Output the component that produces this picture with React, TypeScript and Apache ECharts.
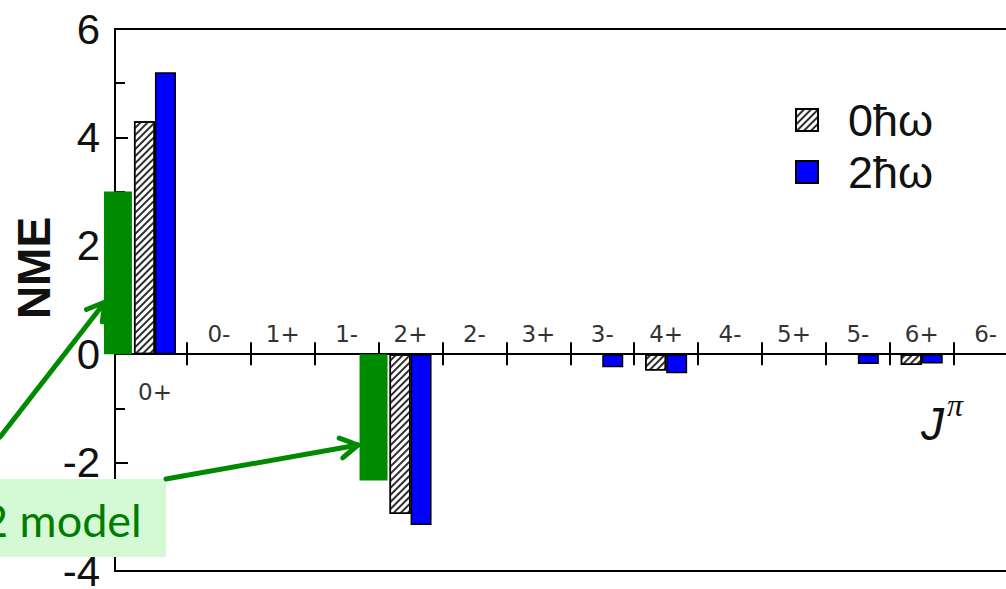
import React, { useEffect, useRef } from "react";
import * as echarts from "echarts";

const categories = ["0+", "0-", "1+", "1-", "2+", "2-", "3+", "3-", "4+", "4-", "5+", "5-", "6+", "6-"];
const seriesNames = ["0ħω", "2ħω"];
const nme0hw = [4.3, 0, 0, 0, -2.95, 0, 0, 0, -0.3, 0, 0, 0, -0.2, 0];
const nme2hw = [5.2, 0, 0, 0, -3.15, 0, 0, -0.24, -0.35, 0, 0, -0.18, -0.17, 0];
const modelValues = [3.0, null, null, null, -2.33, null, null, null, null, null, null, null, null, null];
const yMin = -4;
const yMax = 6;
const yInterval = 2;

const GREEN = "#008a00";

function arrow(x1: number, y1: number, x2: number, y2: number, len: number) {
  const dx = x2 - x1;
  const dy = y2 - y1;
  const L = Math.hypot(dx, dy);
  const ux = -dx / L;
  const uy = -dy / L;
  const a = Math.PI / 6;
  const b1 = [x2 + len * (ux * Math.cos(a) - uy * Math.sin(a)), y2 + len * (ux * Math.sin(a) + uy * Math.cos(a))];
  const b2 = [x2 + len * (ux * Math.cos(a) + uy * Math.sin(a)), y2 + len * (-ux * Math.sin(a) + uy * Math.cos(a))];
  const style = { stroke: GREEN, lineWidth: 5, lineCap: "round", lineJoin: "round", fill: "none" };
  return [
    { type: "line", z: 100, shape: { x1, y1, x2, y2 }, style },
    { type: "polyline", z: 100, shape: { points: [b1, [x2, y2], b2] }, style },
  ];
}

export default function App() {
  const ref = useRef<HTMLDivElement>(null);
  useEffect(() => {
    if (!ref.current) return;
    const chart = echarts.init(ref.current, null, { renderer: "svg" });
    const catW = 63.9;
    const plotW = catW * categories.length;
    const top = 29;
    const height = 542;
    // distance from the bottom of the plot to the zero line
    const zeroOffset = (height * (0 - yMin)) / (yMax - yMin);
    const hatch = {
      symbol: "rect",
      symbolSize: 1,
      color: "#2e2e2e",
      backgroundColor: "#ffffff",
      dashArrayX: [1, 0],
      dashArrayY: [2, 3],
      rotation: -Math.PI / 4,
    };
    const gridCommon = { outerBoundsMode: "none", containLabel: false };
    const tickLine = { color: "#000", width: 2 };
    const skipFirst = (i: number) => i !== 0;
    const option: any = {
      animation: false,
      backgroundColor: "#ffffff",
      grid: [
        { ...gridCommon, left: 123, top, width: plotW, height },
        { ...gridCommon, left: 115, top, width: 1000, height, show: true, borderColor: "#000", borderWidth: 2, backgroundColor: "transparent" },
        { ...gridCommon, left: 86, top, width: plotW, height },
      ],
      legend: {
        data: seriesNames,
        orient: "vertical",
        left: 790,
        top: 92,
        itemWidth: 22,
        itemHeight: 22,
        itemGap: 6,
        icon: "rect",
        textStyle: { fontFamily: "Liberation Sans", fontSize: 45, color: "#111", lineHeight: 46, padding: [0, 0, 0, 25] },
      },
      xAxis: [
        {
          type: "category",
          gridIndex: 0,
          data: categories,
          position: "bottom",
          offset: -zeroOffset,
          axisLine: { show: true, onZero: false, lineStyle: tickLine },
          axisTick: { show: true, inside: true, length: 12, alignWithLabel: false, interval: skipFirst, lineStyle: tickLine },
          axisLabel: {
            inside: true,
            margin: 9,
            fontFamily: "DejaVu Sans",
            fontSize: 23,
            color: "#333",
            interval: 0,
            formatter: (v: string) => (v === categories[0] ? "" : v),
          },
          splitLine: { show: false },
        },
        {
          type: "category",
          gridIndex: 0,
          data: categories,
          position: "bottom",
          offset: -zeroOffset,
          axisLine: { show: true, onZero: false, lineStyle: tickLine },
          axisTick: { show: true, inside: false, length: 11, alignWithLabel: false, interval: skipFirst, lineStyle: tickLine },
          axisLabel: {
            margin: 26,
            fontFamily: "DejaVu Sans",
            fontSize: 23,
            color: "#333",
            interval: 0,
            formatter: (v: string) => (v === categories[0] ? v : ""),
          },
          splitLine: { show: false },
        },
        { type: "value", gridIndex: 1, show: false, min: 0, max: 1 },
        { type: "category", gridIndex: 2, data: categories, show: false },
      ],
      yAxis: [
        { type: "value", gridIndex: 0, min: yMin, max: yMax, interval: yInterval, show: false, splitLine: { show: false } },
        {
          type: "value",
          gridIndex: 1,
          min: yMin,
          max: yMax,
          interval: yInterval,
          axisLine: { show: true, onZero: false, lineStyle: tickLine },
          axisTick: { show: true, inside: true, length: 13, lineStyle: tickLine },
          minorTick: { show: true, splitNumber: 2, length: 10, lineStyle: tickLine },
          axisLabel: { margin: 15, fontFamily: "Liberation Sans", fontSize: 42, color: "#111" },
          splitLine: { show: false },
        },
        { type: "value", gridIndex: 2, min: yMin, max: yMax, interval: yInterval, show: false, splitLine: { show: false } },
      ],
      series: [
        {
          name: seriesNames[0],
          type: "bar",
          xAxisIndex: 0,
          yAxisIndex: 0,
          data: nme0hw,
          barWidth: 21,
          barGap: "0%",
          itemStyle: { color: "#ffffff", borderColor: "#000", borderWidth: 1.5, decal: hatch },
          z: 3,
        },
        {
          name: seriesNames[1],
          type: "bar",
          xAxisIndex: 0,
          yAxisIndex: 0,
          data: nme2hw,
          barWidth: 21,
          barGap: "0%",
          itemStyle: { color: "#0000ff", borderColor: "#000", borderWidth: 1.5 },
          z: 3,
        },
        {
          name: "model",
          type: "bar",
          xAxisIndex: 3,
          yAxisIndex: 2,
          data: modelValues,
          barWidth: 28,
          itemStyle: { color: GREEN },
          z: 4,
        },
      ],
      graphic: [
        {
          type: "text",
          x: 34,
          y: 268,
          rotation: Math.PI / 2,
          style: { text: "NME", fontFamily: "Liberation Sans", fontWeight: "bold", fontSize: 46, fill: "#111", align: "center", verticalAlign: "middle" },
        },
        {
          type: "text",
          x: 921,
          y: 389,
          style: {
            text: "{j|J}{p|π}",
            rich: {
              j: { fontFamily: "Liberation Sans", fontStyle: "italic", fontSize: 46, fill: "#111", verticalAlign: "bottom", padding: [12, 3, 0, 0] },
              p: { fontFamily: "Liberation Serif", fontStyle: "italic", fontSize: 32, fill: "#111", verticalAlign: "top" },
            },
          },
        },
        {
          type: "rect",
          z: 90,
          shape: { x: -10, y: 479, width: 176, height: 78 },
          style: { fill: "#d4f9d4" },
        },
        {
          type: "text",
          z: 95,
          x: -18,
          y: 520,
          style: { text: "2 model", fontFamily: "Lato", fontSize: 45, fill: "#007d00", verticalAlign: "middle" },
        },
        ...arrow(0, 437, 105, 302, 20),
        ...arrow(166, 479, 358, 445, 20),
      ],
    };
    chart.setOption(option);
    return () => chart.dispose();
  }, []);
  return <div ref={ref} style={{ position: "absolute", left: 0, top: 0, width: 1006, height: 589 }} />;
}
